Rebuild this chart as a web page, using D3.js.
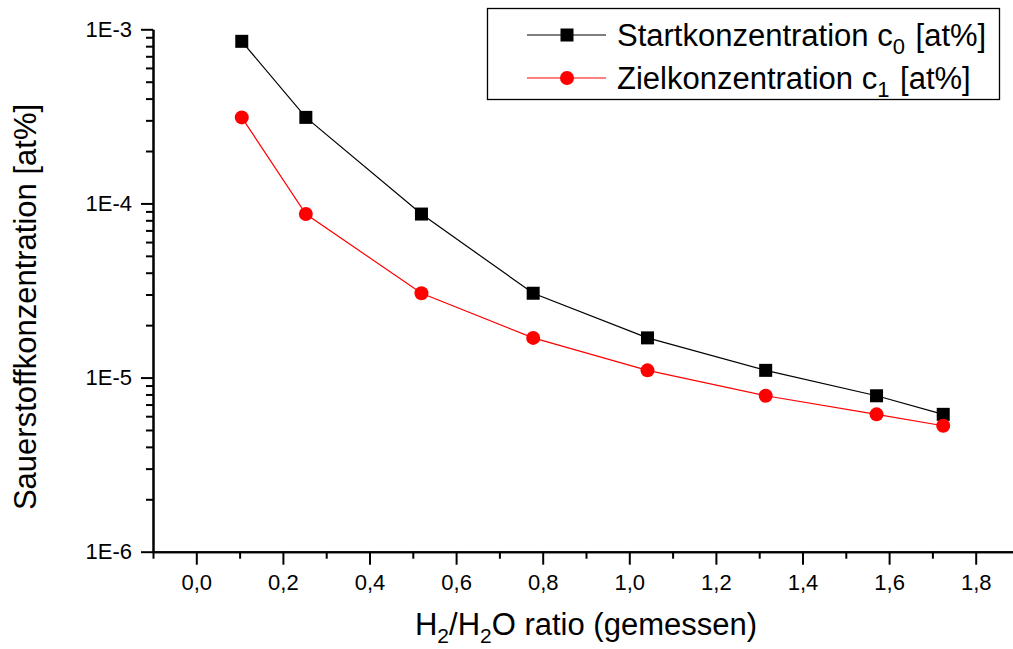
<!doctype html>
<html lang="de">
  <head>
    <meta charset="UTF-8" />
    <title>Sauerstoffkonzentration</title>
    <style>
      body { margin: 0; background: #fff; }
      svg { display: block; font-family: "Liberation Sans", Arial, sans-serif; }
    </style>
  </head>
  <body>
    <div id="target"></div>
    <script src="https://d3js.org/d3.v7.min.js"></script>
    <script>
      /* global d3 */

      // H2/H2O ratio (gemessen)
      const ratio = [0.105, 0.253, 0.52, 0.778, 1.042, 1.315, 1.571, 1.725];
      // Startkonzentration c0 [at%]
      const startConc = [8.53e-4, 3.12e-4, 8.69e-5, 3.05e-5, 1.69e-5, 1.1e-5, 7.86e-6, 6.15e-6];
      // Zielkonzentration c1 [at%]
      const targetConc = [3.12e-4, 8.69e-5, 3.05e-5, 1.69e-5, 1.1e-5, 7.86e-6, 6.15e-6, 5.29e-6];

      const xMajorTicks = [0, 0.2, 0.4, 0.6, 0.8, 1.0, 1.2, 1.4, 1.6, 1.8];
      const xMinorTicks = [-0.1, 0.1, 0.3, 0.5, 0.7, 0.9, 1.1, 1.3, 1.5, 1.7, 1.9];
      const yMajorTicks = [1e-6, 1e-5, 1e-4, 1e-3];
      const yTickLabels = ["1E-6", "1E-5", "1E-4", "1E-3"];

      const width = 1013,
        height = 649;

      const svg = d3
        .select("#target")
        .append("svg")
        .attr("width", width)
        .attr("height", height)
        .attr("viewBox", [0, 0, width, height]);

      const xScale = d3.scaleLinear().domain([-0.1, 1.9]).range([153, 1019]);
      const yScale = d3.scaleLog().domain([1e-6, 1e-3]).range([551.7, 29.3]);

      // minor log ticks 2..9 per decade
      const yMinorTicks = [];
      [1e-6, 1e-5, 1e-4].forEach((dec) => {
        for (let m = 2; m <= 9; m++) yMinorTicks.push(dec * m);
      });

      const styleAxis = (g) => {
        g.attr("font-family", null).attr("font-size", 22);
        g.select(".domain").attr("stroke", "#000").attr("stroke-width", 2);
        g.selectAll(".tick line").attr("stroke", "#000").attr("stroke-width", 2);
        g.selectAll(".tick text").attr("fill", "#000");
      };

      // x axis
      svg
        .append("g")
        .attr("transform", `translate(0, ${yScale.range()[0]})`)
        .call(
          d3.axisBottom(xScale).tickValues(xMinorTicks).tickSize(7).tickSizeOuter(0).tickFormat("")
        )
        .call(styleAxis);
      svg
        .append("g")
        .attr("transform", `translate(0, ${yScale.range()[0]})`)
        .call(
          d3
            .axisBottom(xScale)
            .tickValues(xMajorTicks)
            .tickSize(13)
            .tickSizeOuter(0)
            .tickPadding(10)
            .tickFormat((d) => d.toFixed(1).replace(".", ","))
        )
        .call(styleAxis);

      // y axis
      svg
        .append("g")
        .attr("transform", `translate(${xScale.range()[0]}, 0)`)
        .call(
          d3.axisLeft(yScale).tickValues(yMinorTicks).tickSize(7).tickSizeOuter(0).tickFormat("")
        )
        .call(styleAxis);
      svg
        .append("g")
        .attr("transform", `translate(${xScale.range()[0]}, 0)`)
        .call(
          d3
            .axisLeft(yScale)
            .tickValues(yMajorTicks)
            .tickSize(12)
            .tickSizeOuter(0)
            .tickPadding(9)
            .tickFormat((d, i) => yTickLabels[i])
        )
        .call(styleAxis);

      // axis titles
      const xTitle = svg
        .append("text")
        .attr("x", 586)
        .attr("y", 635)
        .attr("text-anchor", "middle")
        .attr("font-size", 31);
      xTitle.append("tspan").text("H");
      xTitle.append("tspan").attr("font-size", 21).attr("dy", 8).text("2");
      xTitle.append("tspan").attr("dy", -8).text("/H");
      xTitle.append("tspan").attr("font-size", 21).attr("dy", 8).text("2");
      xTitle.append("tspan").attr("dy", -8).text("O ratio (gemessen)");

      svg
        .append("text")
        .attr("transform", "translate(36, 307) rotate(-90)")
        .attr("text-anchor", "middle")
        .attr("font-size", 31)
        .text("Sauerstoffkonzentration [at%]");

      // series
      const series = [
        { name: "Startkonzentration c", sub: "0", values: startConc, color: "#000", shape: "square" },
        { name: "Zielkonzentration c", sub: "1", values: targetConc, color: "#ff0000", shape: "circle" },
      ];

      const line = d3
        .line()
        .x((d) => xScale(d[0]))
        .y((d) => yScale(d[1]));

      const drawMarker = (sel, s) => {
        if (s.shape === "square") {
          sel.append("rect").attr("x", -6.5).attr("y", -6.5).attr("width", 13).attr("height", 13).attr("fill", s.color);
        } else {
          sel.append("circle").attr("r", 7).attr("fill", s.color);
        }
      };

      series.forEach((s) => {
        const pts = ratio.map((r, i) => [r, s.values[i]]);
        svg
          .append("path")
          .datum(pts)
          .attr("fill", "none")
          .attr("stroke", s.color)
          .attr("stroke-width", 1.2)
          .attr("d", line);
        svg
          .append("g")
          .selectAll("g")
          .data(pts)
          .join("g")
          .attr("transform", (d) => `translate(${xScale(d[0])}, ${yScale(d[1])})`)
          .each(function () {
            drawMarker(d3.select(this), s);
          });
      });

      // legend
      const legend = svg.append("g");
      legend
        .append("rect")
        .attr("x", 487.5)
        .attr("y", 8.5)
        .attr("width", 512)
        .attr("height", 91)
        .attr("fill", "#fff")
        .attr("stroke", "#000")
        .attr("stroke-width", 1.3);

      series.forEach((s, i) => {
        const cy = 35 + i * 43;
        const row = legend.append("g");
        row
          .append("line")
          .attr("x1", 527)
          .attr("x2", 606)
          .attr("y1", cy)
          .attr("y2", cy)
          .attr("stroke", s.color)
          .attr("stroke-width", 1.2);
        drawMarker(row.append("g").attr("transform", `translate(567, ${cy})`), s);
        const t = row
          .append("text")
          .attr("x", 617)
          .attr("y", cy + 11)
          .attr("font-size", 31);
        t.append("tspan").text(s.name);
        t.append("tspan").attr("font-size", 22).attr("dy", 8).text(s.sub);
        t.append("tspan").attr("dy", -8).attr("dx", 2).text(" [at%]");
      });
    </script>
  </body>
</html>
